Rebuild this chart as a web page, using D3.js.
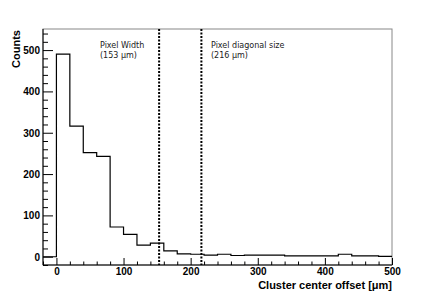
<!DOCTYPE html>
<html>
<head>
<meta charset="utf-8">
<script src="https://cdn.jsdelivr.net/npm/d3@7"></script>
<style>
  body { margin: 0; background: #fff; }
  svg { display: block; }
  text { font-family: "Liberation Sans", Arial, sans-serif; }
</style>
</head>
<body>
<svg id="chart" width="436" height="295"></svg>
<script>
  // histogram data (bin width 20 um)
  var BIN_EDGES = d3.range(-20, 501, 20)
  var COUNTS = [0, 490, 316, 252, 243, 72, 54, 28, 33, 14, 7, 6, 4, 6, 3, 4, 4, 4, 2, 2, 2, 2, 6, 2, 2, 1]
  var X_TICKS = [0, 100, 200, 300, 400, 500]
  var Y_TICKS = [0, 100, 200, 300, 400, 500]
  var MARKERS = [
    { x: 153, labelX: 100, label: ['Pixel Width', '(153 \u03bcm)'] },
    { x: 216, labelX: 211, label: ['Pixel diagonal size', '(216 \u03bcm)'] }
  ]

  var FRAME = { left: 43, right: 392, top: 29, bottom: 265 }

  var svg = d3.select('#chart')
  var x = d3.scaleLinear().domain([-20, 500]).range([FRAME.left, FRAME.right])
  var y = d3.scaleLinear().domain([-20, 551]).range([FRAME.bottom, FRAME.top])

  // frame (top/right lighter, like the original)
  svg.append('rect')
    .attr('x', FRAME.left).attr('y', FRAME.top)
    .attr('width', FRAME.right - FRAME.left).attr('height', FRAME.bottom - FRAME.top)
    .attr('fill', 'none').attr('stroke', '#888').attr('stroke-width', 1)

  // histogram as step line
  var pts = []
  COUNTS.forEach(function (c, i) {
    pts.push([BIN_EDGES[i], c])
    pts.push([BIN_EDGES[i + 1], c])
  })
  svg.append('path')
    .attr('d', d3.line().x(function (d) { return x(d[0]) }).y(function (d) { return y(d[1]) })(pts))
    .attr('fill', 'none').attr('stroke', '#000').attr('stroke-width', 1.2)

  // marker lines and labels
  MARKERS.forEach(function (m) {
    svg.append('line')
      .attr('x1', x(m.x)).attr('x2', x(m.x))
      .attr('y1', FRAME.top).attr('y2', FRAME.bottom)
      .attr('stroke', '#000').attr('stroke-width', 2)
      .attr('stroke-dasharray', '2,1.5')
    var t = svg.append('text')
      .attr('y', 48)
      .style('font-family', '"DejaVu Sans", sans-serif')
      .style('font-size', '8px').attr('fill', '#222')
    m.label.forEach(function (s, i) {
      t.append('tspan').attr('x', m.labelX).attr('dy', i ? 10 : 0).text(s)
    })
  })

  // axes lines
  svg.append('line').attr('x1', FRAME.left).attr('x2', FRAME.right)
    .attr('y1', FRAME.bottom).attr('y2', FRAME.bottom).attr('stroke', '#000')
  svg.append('line').attr('x1', FRAME.left).attr('x2', FRAME.left)
    .attr('y1', FRAME.top).attr('y2', FRAME.bottom).attr('stroke', '#000')

  // x ticks (inward)
  var xAxis = d3.axisBottom(x).tickValues(X_TICKS).tickSize(-7).tickPadding(3)
  var gx = svg.append('g').attr('transform', 'translate(0,' + FRAME.bottom + ')').call(xAxis)
  gx.select('.domain').remove()
  var xMinor = d3.axisBottom(x).tickValues(d3.range(-20, 501, 20).filter(function (v) { return v % 100 })).tickSize(-3.5).tickFormat('')
  var gxm = svg.append('g').attr('transform', 'translate(0,' + FRAME.bottom + ')').call(xMinor)
  gxm.select('.domain').remove()

  // y ticks (inward)
  var yAxis = d3.axisLeft(y).tickValues(Y_TICKS).tickSize(-10).tickPadding(3)
  var gy = svg.append('g').attr('transform', 'translate(' + FRAME.left + ',0)').call(yAxis)
  gy.select('.domain').remove()
  var yMinor = d3.axisLeft(y).tickValues(d3.range(-20, 551, 20).filter(function (v) { return v % 100 })).tickSize(-5).tickFormat('')
  var gym = svg.append('g').attr('transform', 'translate(' + FRAME.left + ',0)').call(yMinor)
  gym.select('.domain').remove()

  svg.selectAll('.tick line').attr('stroke', '#000')
  svg.selectAll('.tick text')
    .style('font-family', '"Liberation Sans", Arial, sans-serif')
    .style('font-size', '10px').style('font-weight', 'bold').attr('fill', '#000')
  gy.selectAll('.tick text').attr('dy', '0.35em')

  // axis titles
  svg.append('text')
    .attr('x', FRAME.right).attr('y', 289)
    .attr('text-anchor', 'end')
    .style('font-size', '11px').style('font-weight', 'bold')
    .text('Cluster center offset [\u03bcm]')
  svg.append('text')
    .attr('transform', 'translate(20,' + (FRAME.top + 1) + ') rotate(-90)')
    .attr('text-anchor', 'end')
    .style('font-size', '11px').style('font-weight', 'bold')
    .text('Counts')
</script>
</body>
</html>
